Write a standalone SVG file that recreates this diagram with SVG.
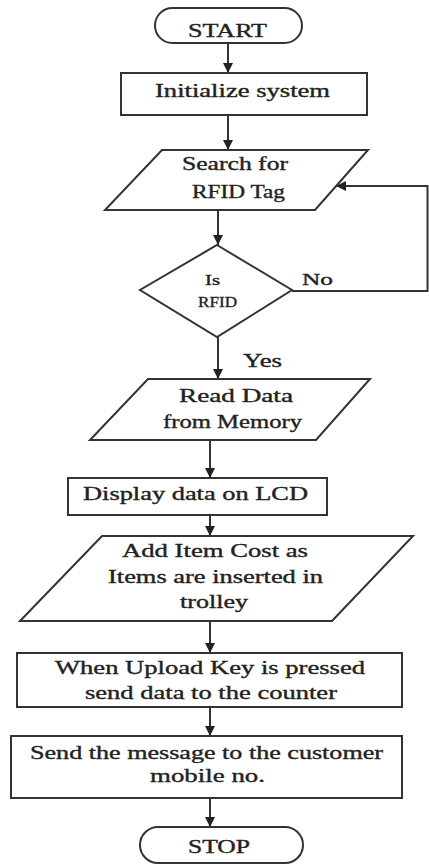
<svg xmlns="http://www.w3.org/2000/svg" width="429" height="866" viewBox="0 0 429 866">
<defs>
<style>
.shape{fill:#ffffff;stroke:#333333;stroke-width:2}
.line{fill:none;stroke:#333333;stroke-width:2}
text{font-family:"Liberation Serif","Times New Roman",serif;font-size:18px;fill:#222222;stroke:#222222;stroke-width:0.35}
.sm{font-size:15px}
.md{font-size:16px}
</style>
<marker id="arr" viewBox="0 0 10 10" refX="10" refY="5" markerWidth="5" markerHeight="5" orient="auto" markerUnits="strokeWidth">
<path d="M0,0 L10,5 L0,10 Z" fill="#222222"/>
</marker>
</defs>
<rect width="429" height="866" fill="#ffffff"/>
<g id="connectors">
<line class="line" x1="228" y1="43" x2="228" y2="73" marker-end="url(#arr)"/>
<line class="line" x1="228" y1="115" x2="228" y2="150" marker-end="url(#arr)"/>
<line class="line" x1="218" y1="210" x2="218" y2="245" marker-end="url(#arr)"/>
<line class="line" x1="218" y1="337" x2="218" y2="379" marker-end="url(#arr)"/>
<polyline class="line" points="292,291 427.5,291 427.5,186 336,186" marker-end="url(#arr)"/>
<line class="line" x1="210" y1="440" x2="210" y2="478" marker-end="url(#arr)"/>
<line class="line" x1="210" y1="515" x2="210" y2="536" marker-end="url(#arr)"/>
<line class="line" x1="210" y1="621" x2="210" y2="653" marker-end="url(#arr)"/>
<line class="line" x1="210" y1="707" x2="210" y2="736" marker-end="url(#arr)"/>
<line class="line" x1="210" y1="798" x2="210" y2="827" marker-end="url(#arr)"/>
<text x="302" y="285" class="md" textLength="31" lengthAdjust="spacingAndGlyphs">No</text>
<text x="243" y="367" textLength="39" lengthAdjust="spacingAndGlyphs">Yes</text>
</g>
<g id="start">
<rect class="shape" x="155" y="8" width="147" height="35" rx="17.5" ry="17.5"/>
<text x="188" y="37" textLength="79" lengthAdjust="spacingAndGlyphs">START</text>
</g>
<g id="init">
<rect class="shape" x="121" y="73" width="246" height="42"/>
<text x="155" y="97" textLength="175" lengthAdjust="spacingAndGlyphs">Initialize system</text>
</g>
<g id="search">
<polygon class="shape" points="162,150 368,150 315,210 105,210"/>
<text x="182" y="170" textLength="106" lengthAdjust="spacingAndGlyphs">Search for</text>
<text x="192" y="198" textLength="93" lengthAdjust="spacingAndGlyphs">RFID Tag</text>
</g>
<g id="decision">
<polygon class="shape" points="217,245 292,290 217,337 140,290"/>
<text x="205" y="285" class="sm" textLength="15" lengthAdjust="spacingAndGlyphs">Is</text>
<text x="198" y="307" class="sm" textLength="39" lengthAdjust="spacingAndGlyphs">RFID</text>
</g>
<g id="read">
<polygon class="shape" points="148,379 370,379 316,440 90,440"/>
<text x="179" y="402" textLength="114" lengthAdjust="spacingAndGlyphs">Read Data</text>
<text x="163" y="428" textLength="139" lengthAdjust="spacingAndGlyphs">from Memory</text>
</g>
<g id="display">
<rect class="shape" x="68" y="478" width="259" height="37"/>
<text x="83" y="500" textLength="225" lengthAdjust="spacingAndGlyphs">Display data on LCD</text>
</g>
<g id="add">
<polygon class="shape" points="102,536 413,536 332,621 20,621"/>
<text x="122" y="557" textLength="186" lengthAdjust="spacingAndGlyphs">Add Item Cost as</text>
<text x="108" y="583" textLength="215" lengthAdjust="spacingAndGlyphs">Items are inserted in</text>
<text x="180" y="608" textLength="68" lengthAdjust="spacingAndGlyphs">trolley</text>
</g>
<g id="upload">
<rect class="shape" x="17" y="653" width="385" height="54"/>
<text x="55" y="674" textLength="310" lengthAdjust="spacingAndGlyphs">When Upload Key is pressed</text>
<text x="85" y="699" textLength="252" lengthAdjust="spacingAndGlyphs">send data to the counter</text>
</g>
<g id="send">
<rect class="shape" x="11" y="736" width="391" height="62"/>
<text x="30" y="759" textLength="353" lengthAdjust="spacingAndGlyphs">Send the message to the customer</text>
<text x="150" y="782" textLength="115" lengthAdjust="spacingAndGlyphs">mobile no.</text>
</g>
<g id="stop">
<rect class="shape" x="140" y="827" width="163" height="36" rx="18" ry="18"/>
<text x="188" y="853" textLength="62" lengthAdjust="spacingAndGlyphs">STOP</text>
</g>
</svg>
